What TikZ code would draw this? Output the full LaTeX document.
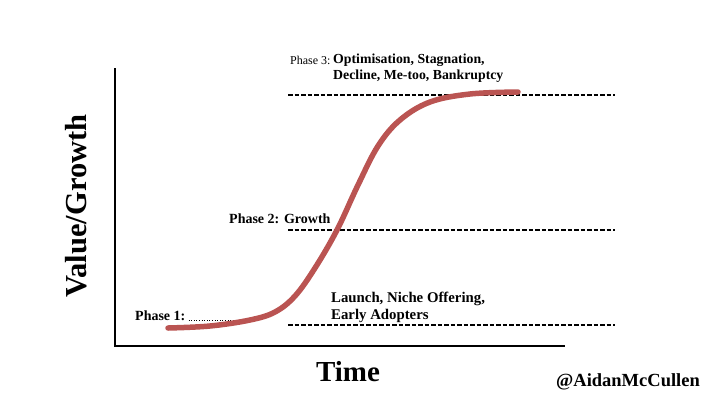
\documentclass[tikz,border=0pt]{standalone}
\usepackage{fontspec}
\setmainfont{Liberation Serif}
\usepackage{tikz}
\usetikzlibrary{positioning, calc}
\definecolor{curvered}{RGB}{186,84,82}
\tikzstyle{phase} = [anchor=base west, inner sep=0pt, font=\fontsize{14}{16}\selectfont\bfseries]
\tikzstyle{level} = [dash pattern=on 4.5pt off 2pt, line width=1.2pt]
\tikzstyle{axis} = [line width=1.8pt]
\tikzstyle{scurve} = [line width=5.5pt, draw=curvered, line cap=round]

\begin{document}
\begin{tikzpicture}[x=1pt, y=-1pt]
\useasboundingbox (0,0) rectangle (720,405);
% axes
\coordinate (top) at (115,68);
\coordinate (origin) at (115,346);
\coordinate (right) at (565,346);
\draw [axis] (top) -- (origin) -- (right);
\node (value) [rotate=90, font=\fontsize{30.5}{32}\selectfont\bfseries] at (76,206) {Value/Growth};
\node (time) [font=\fontsize{29}{30}\selectfont\bfseries] at (348,372) {Time};
\node (handle) [font=\fontsize{18.5}{20}\selectfont\bfseries] at (628,382) {@AidanMcCullen};

% phase levels
\coordinate (top3) at (288,95);
\coordinate (end3) at (615,95);
\coordinate (top2) at (288,230);
\coordinate (end2) at (615,230);
\coordinate (top1) at (288,325);
\coordinate (end1) at (615,325);
\draw [level] (top3) -- (end3);
\draw [level] (top2) -- (end2);
\draw [level] (top1) -- (end1);

% phase 3
\node (p3) [phase, font=\fontsize{12}{14}\selectfont] at (290,64) {Phase 3:};
\node (opt) [phase, font=\fontsize{13.8}{15}\selectfont\bfseries] at (333,63) {Optimisation, Stagnation,};
\node (decl) [phase, font=\fontsize{13.8}{15}\selectfont\bfseries] at ($(opt.base west)+(0,16.5)$) {Decline, Me-too, Bankruptcy};

% phase 2
\node (p2) [phase] at (229,223) {Phase 2: Growth};

% phase 1
\node (p1) [phase] at (135,320) {Phase 1:};
\coordinate (dotend) at (235,320);
\draw [dotted, line width=0.6pt] ($(p1.base east)+(3,0)$) -- (dotend);
\node (launch) [phase, font=\fontsize{14.8}{16}\selectfont\bfseries] at (331,302) {Launch, Niche Offering,};
\node (early) [phase, font=\fontsize{14.8}{16}\selectfont\bfseries] at ($(launch.base west)+(0,17)$) {Early Adopters};

% s-curve
\draw [scurve] plot [smooth, tension=0.6] coordinates {(168,328) (210,326) (250,320) (275,312) (295,296) (315,268) (337,230) (358,185) (378,146) (400,120) (430,102) (470,94) (518,92)};
\end{tikzpicture}
\end{document}
